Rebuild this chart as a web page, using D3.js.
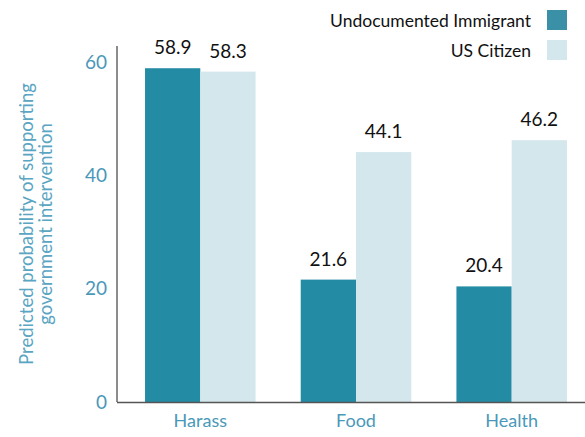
<!DOCTYPE html>
<html>
<head>
<meta charset="utf-8">
<script src="https://cdn.jsdelivr.net/npm/d3@7"></script>
<style>
  body { margin: 0; background: #fff; }
  text { font-family: "Lato", "Open Sans", sans-serif; }
</style>
</head>
<body>
<div id="chart"></div>
<script>
var categories = ['Harass', 'Food', 'Health']
var seriesNames = ['Undocumented Immigrant', 'US Citizen']
var undocumented = [58.9, 21.6, 20.4]
var citizen = [58.3, 44.1, 46.2]
var yTicks = [0, 20, 40, 60]
var colors = ['#238ba3', '#d4e7ed']

var w = 585, h = 437
var svg = d3.select('#chart').append('svg').attr('width', w).attr('height', h)

var x = d3.scaleBand().domain(categories).range([117, 595]).paddingInner(0.29).paddingOuter(0.18)
var x1 = d3.scaleBand().domain(seriesNames).range([0, x.bandwidth()])
var y = d3.scaleLinear().domain([0, 60]).range([402, 62])

var rows = categories.map(function(c, i){
  return { cat: c, vals: [undocumented[i], citizen[i]] }
})

// bars
var g = svg.selectAll('g.grp').data(rows).enter().append('g')
  .attr('transform', function(d){ return 'translate(' + x(d.cat) + ',0)' })

g.selectAll('rect').data(function(d){ return d.vals.map(function(v, j){ return {v: v, s: seriesNames[j], j: j} }) })
  .enter().append('rect')
  .attr('x', function(d){ return x1(d.s) })
  .attr('width', x1.bandwidth())
  .attr('y', function(d){ return y(d.v) })
  .attr('height', function(d){ return y(0) - y(d.v) })
  .attr('fill', function(d){ return colors[d.j] })

g.selectAll('text.val').data(function(d){ return d.vals.map(function(v, j){ return {v: v, s: seriesNames[j]} }) })
  .enter().append('text').attr('class', 'val')
  .attr('x', function(d){ return x1(d.s) + x1.bandwidth()/2 })
  .attr('y', function(d){ return y(d.v) - 14 })
  .attr('text-anchor', 'middle')
  .attr('font-size', 19)
  .attr('fill', '#111')
  .text(function(d){ return d.v.toFixed(1) })

// axes
var yAxis = svg.append('g').attr('transform', 'translate(117,0)')
  .call(d3.axisLeft(y).tickValues(yTicks).tickSize(0).tickPadding(10))
yAxis.select('.domain').remove()
yAxis.selectAll('text').attr('font-size', 19).attr('fill', '#4a98b9').attr('font-family', 'Lato, sans-serif')
svg.append('line').attr('x1', 117).attr('x2', 117).attr('y1', 46).attr('y2', 402)
  .attr('stroke', '#666').attr('stroke-width', 1.5)

var xAxis = svg.append('g').attr('transform', 'translate(0,402)')
  .call(d3.axisBottom(x).tickSize(0).tickPadding(12))
xAxis.select('.domain').remove()
xAxis.selectAll('text').attr('font-size', 18).attr('fill', '#4a98b9').attr('font-family', 'Lato, sans-serif')
svg.append('line').attr('x1', 117).attr('x2', 585).attr('y1', 402.5).attr('y2', 402.5)
  .attr('stroke', '#555').attr('stroke-width', 1.5)

// y title
var title = svg.append('text').attr('transform', 'translate(0,224) rotate(-90)')
  .attr('text-anchor', 'middle').attr('font-size', 18.5).attr('fill', '#5aa5c2')
title.append('tspan').attr('x', 0).attr('y', 33).text('Predicted probability of supporting')
title.append('tspan').attr('x', 0).attr('y', 52).text('government intervention')

// legend
var leg = svg.selectAll('g.leg').data(seriesNames).enter().append('g')
  .attr('transform', function(d, i){ return 'translate(0,' + (10 + i*30) + ')' })
leg.append('rect').attr('x', 547).attr('y', 0).attr('width', 20).attr('height', 20)
  .attr('fill', function(d, i){ return i == 0 ? '#3a90a6' : colors[1] })
leg.append('text').attr('x', 531).attr('y', 17).attr('text-anchor', 'end')
  .attr('font-size', 17.5).attr('fill', '#111').text(function(d){ return d })
</script>
</body>
</html>
